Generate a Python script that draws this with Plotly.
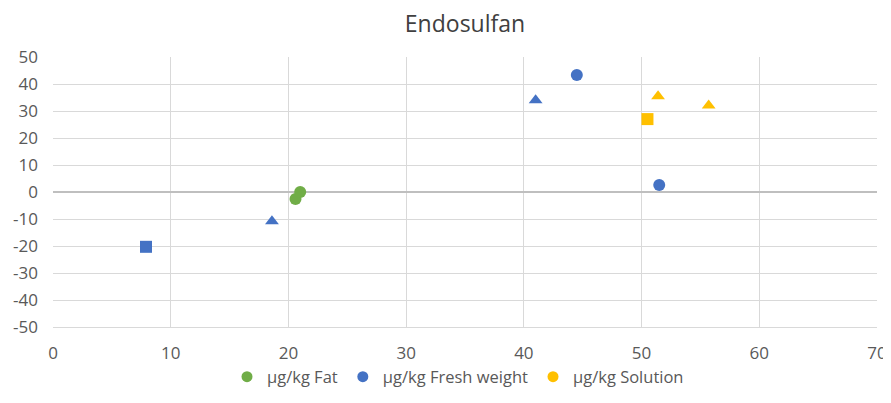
import plotly.graph_objects as go

# Data
fat_x = [20.6, 21.0]
fat_y = [-2.6, 0.0]
fat_sym = ["circle", "circle"]

fresh_x = [7.9, 18.6, 41.0, 44.5, 51.5]
fresh_y = [-20.3, -10.8, 34.0, 43.3, 2.6]
fresh_sym = ["square", "triangle-up", "triangle-up", "circle", "circle"]

sol_x = [50.5, 51.4, 55.7]
sol_y = [27.0, 35.5, 32.0]
sol_sym = ["square", "triangle-up", "triangle-up"]

series_names = ["µg/kg Fat", "µg/kg Fresh weight", "µg/kg Solution"]
colors = ["#70AD47", "#4472C4", "#FFC000"]

x_ticks = [0, 10, 20, 30, 40, 50, 60, 70]
y_ticks = [-50, -40, -30, -20, -10, 0, 10, 20, 30, 40, 50]
y_ticktext = [str(v) for v in y_ticks]

fig = go.Figure()
for xs, ys, syms, name, col in [
    (fat_x, fat_y, fat_sym, series_names[0], colors[0]),
    (fresh_x, fresh_y, fresh_sym, series_names[1], colors[1]),
    (sol_x, sol_y, sol_sym, series_names[2], colors[2]),
]:
    fig.add_trace(go.Scatter(
        x=xs, y=ys, mode="markers", name=name, showlegend=False, cliponaxis=False,
        marker=dict(color=col, size=12, symbol=syms),
    ))
for name, col in zip(series_names, colors):
    fig.add_trace(go.Scatter(
        x=[None], y=[None], mode="markers", name=name,
        marker=dict(color=col, size=11, symbol="circle"),
    ))

# the page body has an 8px margin, so the figure is sized/offset to compensate
W, H = 883, 381
font_family = "'Open Sans', sans-serif"
fig.update_layout(
    width=W, height=H,
    paper_bgcolor="white", plot_bgcolor="white",
    margin=dict(l=45, r=14, t=49, b=62, autoexpand=False),
    title=dict(text="Endosulfan", x=0.5, xanchor="center", xref="paper",
               y=1 - 16 / H, yref="container", yanchor="middle",
               font=dict(family=font_family, size=23, color="#404040")),
    font=dict(family=font_family, size=17, color="#595959"),
    legend=dict(orientation="h", x=(227 - 53) / 824, xanchor="left", y=1 - 369 / H,
                yref="container", yanchor="middle",
                font=dict(size=16.5, color="#595959"), itemwidth=30,
                tracegroupgap=0),
    xaxis=dict(range=[0, 70], tickvals=x_ticks, showgrid=True, gridcolor="#D9D9D9",
               gridwidth=1.3, zeroline=False, showline=True, linecolor="#D9D9D9",
               linewidth=1.3, mirror=False, automargin=False, ticklabeloverflow="allow",
               ticks="", ticklabelstandoff=10, tickfont=dict(size=17, color="#595959")),
    yaxis=dict(range=[-50, 50], tickvals=y_ticks, ticktext=y_ticktext,
               showgrid=True, gridcolor="#D9D9D9",
               gridwidth=1.3, zeroline=True, zerolinecolor="#BFBFBF", zerolinewidth=1.5,
               showline=False, ticks="", automargin=False, ticklabelstandoff=14,
               ticklabeloverflow="allow",
               tickfont=dict(size=17, color="#595959")),
)
fig.write_html("out.html")
